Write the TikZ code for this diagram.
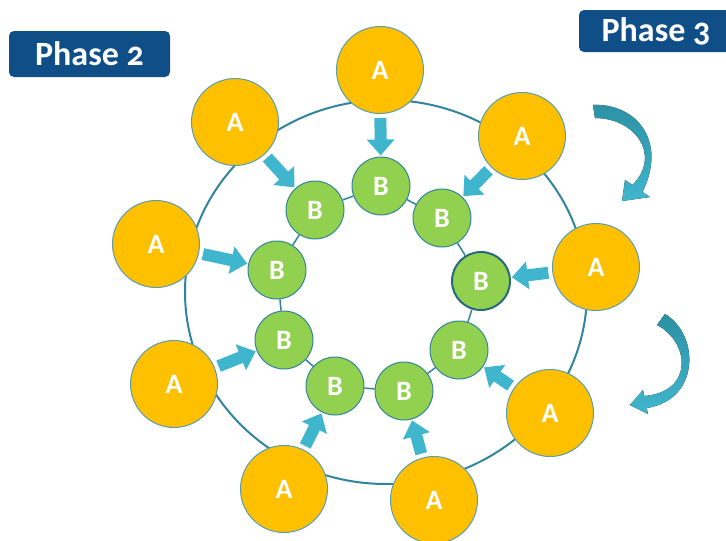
\documentclass[tikz,border=0pt]{standalone}
\usepackage{fontspec}
\setmainfont{Carlito}[Numbers=OldStyle]
\usetikzlibrary{arrows.meta}

\definecolor{aorange}{RGB}{255,192,0}
\definecolor{bgreen}{RGB}{146,208,80}
\definecolor{rimteal}{RGB}{49,132,155}
\definecolor{arrowcyan}{RGB}{64,182,206}
\definecolor{arrowdark}{RGB}{44,145,165}
\definecolor{phaseblue}{RGB}{16,78,135}

\def\ux{1pt}
\def\uy{-1pt}

\begin{document}
\begin{tikzpicture}[x=\ux,y=\uy, font=\bfseries,
    anode/.style={circle, draw=rimteal!80, line width=1pt, fill=aorange, minimum size=87pt,
      inner sep=0pt, text=white, font=\bfseries\fontsize{28}{30}\selectfont},
    bnode/.style={circle, draw=rimteal, line width=1pt, fill=bgreen, minimum size=58pt,
      inner sep=0pt, text=white, font=\bfseries\fontsize{28}{30}\selectfont},
    phasebox/.style={fill=phaseblue, rounded corners=5pt, text=white, inner sep=0pt,
      font=\bfseries\fontsize{34}{40}\selectfont},
    push/.style={draw=arrowcyan, line width=12pt, -{Triangle[width=27pt,length=16pt]},
      shorten <=4pt, shorten >=1pt},
    ring/.style={draw=rimteal, line width=2pt},
    link/.style={draw=rimteal, line width=1.5pt},
    swirl/.style={top color=arrowdark, bottom color=arrowcyan, draw=none}]
		\useasboundingbox (0,0) rectangle (726,541);

		\draw[ring] (386,292) ellipse [x radius=201pt, y radius=192pt];

		\foreach \n/\x/\y in {1/380/70, 2/522/136, 3/596/267, 4/550/413, 5/434/500,
		                      6/284/489, 7/174/384, 8/156/244, 9/235/122}{
			\node[anode] (a\n) at (\x,\y) {A};
		}
		\foreach \n/\x/\y in {1/381/186, 2/442/218, 4/459/350, 5/404/391,
		                      6/335/386, 7/284/340, 8/277/270, 9/315/210}{
			\node[bnode] (b\n) at (\x,\y) {B};
		}
		\node[bnode, draw=rimteal!80!black, line width=2pt] (b3) at (481,281) {B};

		\foreach \i/\j in {1/2, 2/3, 3/4, 4/5, 5/6, 6/7, 7/8, 8/9, 9/1}{
			\draw[link] (b\i) -- (b\j);
		}
		\foreach \n in {1,...,9}{
			\draw[push] (a\n) -- (b\n);
		}

		\fill[swirl] (593,105) .. controls (635,103) and (668,140) .. (642.5,192) -- (650,197)
		  -- (622,201) -- (625,180) -- (632.5,185) .. controls (662,155) and (635,118) .. (595,118) -- cycle;
		\fill[swirl] (665,314) .. controls (700,335) and (700,400) .. (646.7,408) -- (648,414)
		  -- (630,405) -- (643,390) -- (644.3,396) .. controls (694,392) and (690,342) .. (657,325) -- cycle;

		\node[phasebox, minimum width=161pt, minimum height=46pt] (phase2) at (89.5,54) {Phase 2};
		\node[phasebox, minimum width=154pt, minimum height=42pt] (phase3) at (656,31) {Phase 3};
\end{tikzpicture}
\end{document}
